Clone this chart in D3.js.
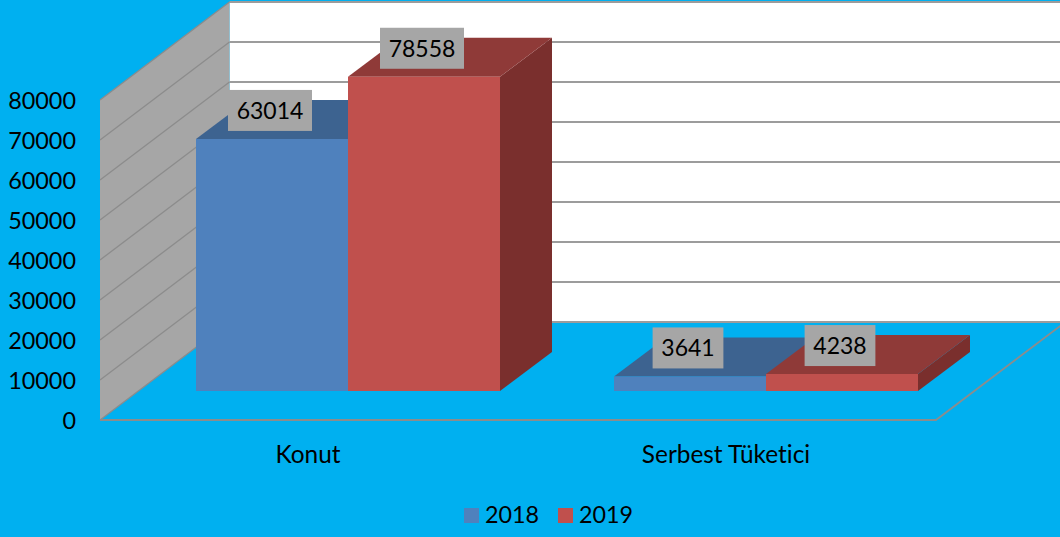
<!DOCTYPE html>
<html>
<head>
<meta charset="utf-8">
<script src="https://cdn.jsdelivr.net/npm/d3@7/dist/d3.min.js"></script>
<style>
html,body{margin:0;padding:0;background:#00B0F0;overflow:hidden}
svg{display:block}
text{font-family:Lato,"Open Sans",sans-serif;fill:#000;font-variant-ligatures:none}
</style>
</head>
<body>
<svg id="c" width="1060" height="537"></svg>
<script>
const categories = ["Konut", "Serbest Tüketici"];
const seriesNames = ["2018", "2019"];
const values2018 = [63014, 3641];
const values2019 = [78558, 4238];
const yTicks = [0, 10000, 20000, 30000, 40000, 50000, 60000, 70000, 80000];
const seriesValues = [values2018, values2019];

const colors = {
  "2018": {front: "#4F81BD", top: "#3D6390", side: "#34557C"},
  "2019": {front: "#C0504D", top: "#8F3A38", side: "#7A2F2D"}
};

const svg = d3.select("#c");
const wallColor = "#A6A6A6", gridColor = "#8C8C8C";

const y = d3.scaleLinear().domain([0, 80000]).range([420, 100]);
const x0 = d3.scaleBand().domain(categories).range([100, 936]);
const x1 = d3.scaleBand().domain(seriesNames).range([0, x0.bandwidth()]).paddingInner(0).paddingOuter(0.375);

// Oblique depth of the floor and of the bars
const depth = {dx: 129.5, dy: -98};
const barDepth = {dx: 52, dy: -39};
const barShift = {dx: 39, dy: -29};
const poly = pts => "M" + pts.map(p => p.join(",")).join("L") + "Z";

// back wall
const backX0 = x0.range()[0] + depth.dx;
svg.append("path")
  .attr("d", poly([[backX0, y(0) + depth.dy], [backX0, y(80000) + depth.dy], [1060, y(80000) + depth.dy], [1060, y(0) + depth.dy]]))
  .attr("fill", "#fff");

svg.append("g").selectAll("line").data(yTicks).join("line")
  .attr("x1", backX0).attr("x2", 1060)
  .attr("y1", d => y(d) + depth.dy).attr("y2", d => y(d) + depth.dy)
  .attr("stroke", "#9C9C9C").attr("stroke-width", 2);

// side wall
svg.append("path")
  .attr("d", poly([[x0.range()[0], y(0)], [x0.range()[0], y(80000)], [backX0, y(80000) + depth.dy], [backX0, y(0) + depth.dy]]))
  .attr("fill", wallColor);

svg.append("g").selectAll("line").data(yTicks).join("line")
  .attr("x1", x0.range()[0]).attr("x2", backX0)
  .attr("y1", d => y(d)).attr("y2", d => y(d) + depth.dy)
  .attr("stroke", gridColor).attr("stroke-width", 1.3);

// floor edges
svg.append("path")
  .attr("d", `M${x0.range()[0]},${y(0)}L${x0.range()[1]},${y(0)}L${x0.range()[1] + depth.dx},${y(0) + depth.dy}`)
  .attr("fill", "none").attr("stroke", gridColor).attr("stroke-width", 1.8);

// bars
const bars = [];
categories.forEach((c, i) => seriesNames.forEach((s, j) => bars.push({c, s, v: seriesValues[j][i]})));
const base = y(0) + barShift.dy;
const h = v => y(0) - y(v);

const gb = svg.append("g");
bars.forEach(d => {
  const xl = x0(d.c) + x1(d.s) + barShift.dx, xr = xl + x1.bandwidth(), t = base - h(d.v);
  const g = gb.append("g");
  g.append("path").attr("fill", colors[d.s].side)
    .attr("d", poly([[xr, base], [xr + barDepth.dx, base + barDepth.dy], [xr + barDepth.dx, t + barDepth.dy], [xr, t]]));
  g.append("path").attr("fill", colors[d.s].top)
    .attr("d", poly([[xl, t], [xl + barDepth.dx, t + barDepth.dy], [xr + barDepth.dx, t + barDepth.dy], [xr, t]]));
  g.append("path").attr("fill", colors[d.s].front)
    .attr("d", poly([[xl, base], [xl, t], [xr, t], [xr, base]]));
});

// data labels
const lg = svg.append("g");
bars.forEach(d => {
  const xl = x0(d.c) + x1(d.s) + barShift.dx, t = base - h(d.v);
  const cx = xl + x1.bandwidth() / 2 + barDepth.dx / 2 - 28;
  const cy = t + barDepth.dy / 2 - 9;
  const w = String(d.v).length * 13.2 + 18;
  lg.append("rect").attr("x", cx - w / 2).attr("y", cy - 20.5).attr("width", w).attr("height", 41).attr("fill", wallColor);
  lg.append("text").attr("x", cx).attr("y", cy + 8.5).attr("text-anchor", "middle").attr("font-size", 23).text(d.v);
});

// value axis labels
const axis = d3.axisLeft(y).tickValues(yTicks).tickSize(0).tickPadding(0).tickFormat(d3.format("d"));
const ga = svg.append("g").attr("transform", "translate(76,1)").call(axis);
ga.select(".domain").remove();
ga.selectAll("text").attr("font-size", 23.4).attr("font-family", "Lato").attr("fill", "#000");

// category labels
svg.append("g").selectAll("text").data(categories).join("text")
  .attr("x", d => x0(d) + x0.bandwidth() / 2 - 1).attr("y", 463)
  .attr("text-anchor", "middle").attr("font-size", 24.4).text(d => d);

// legend
const legendX = d3.scaleOrdinal().domain(seriesNames).range([464, 558]);
const lgd = svg.append("g").selectAll("g").data(seriesNames).join("g")
  .attr("transform", d => `translate(${legendX(d)},508)`);
lgd.append("rect").attr("width", 15).attr("height", 15).attr("fill", d => colors[d].front);
lgd.append("text").attr("x", 21).attr("y", 15).attr("font-size", 23.3).text(d => d);
</script>
</body>
</html>
